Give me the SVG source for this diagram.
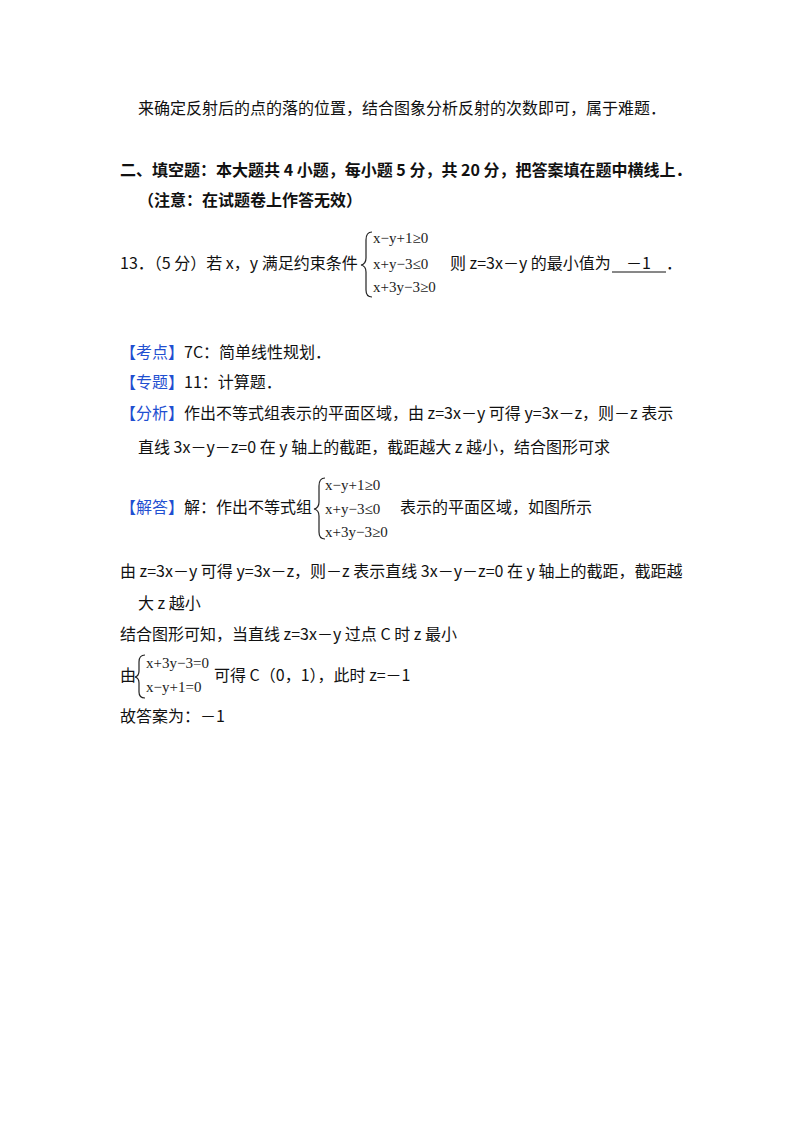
<svg xmlns="http://www.w3.org/2000/svg" width="800" height="1132" viewBox="0 0 800 1132">
<style>
text{font-family:"Noto Sans CJK SC","Noto Sans",sans-serif;font-size:16px;fill:#111}
.b{font-weight:bold}
.k{fill:#1f4fd1}
.m{font-family:"Liberation Serif",serif;font-size:15px;fill:#222}
.br{fill:none;stroke:#222;stroke-width:1.2}
</style>
<rect width="800" height="1132" fill="#fff"/>
<text x="138" y="114">来确定反射后的点的落的位置，结合图象分析反射的次数即可，属于难题．</text>
<text x="120" y="176" class="b">二、填空题：本大题共 4 小题，每小题 5 分，共 20 分，把答案填在题中横线上．</text>
<text x="138" y="206" class="b">（注意：在试题卷上作答无效）</text>
<text x="120" y="269">13．（5 分）若 x，y 满足约束条件</text>
<path class="br" d="M372,232 Q366,232 366,240 L366,258 Q366,264 361,265 Q366,266 366,272 L366,290 Q366,297 372,297"/>
<text x="373" y="243" class="m">x−y+1≥0</text>
<text x="373" y="269" class="m">x+y−3≤0</text>
<text x="373" y="292" class="m">x+3y−3≥0</text>
<text x="450" y="269">则 z=3x－y 的最小值为</text>
<text x="626" y="269">－1</text>
<line x1="612" y1="272" x2="666" y2="272" stroke="#111" stroke-width="1"/>
<text x="666" y="269">．</text>
<text x="120" y="358"><tspan class="k">【考点】</tspan>7C：简单线性规划．</text>
<text x="120" y="388"><tspan class="k">【专题】</tspan>11：计算题．</text>
<text x="120" y="419"><tspan class="k">【分析】</tspan>作出不等式组表示的平面区域，由 z=3x－y 可得 y=3x－z，则－z 表示</text>
<text x="138" y="453">直线 3x－y－z=0 在 y 轴上的截距，截距越大 z 越小，结合图形可求</text>
<text x="120" y="513"><tspan class="k">【解答】</tspan>解：作出不等式组</text>
<path class="br" d="M325,478 Q319,478 319,486 L319,502 Q319,508 314,509 Q319,510 319,516 L319,532 Q319,539 325,539"/>
<text x="325" y="490" class="m">x−y+1≥0</text>
<text x="325" y="514" class="m">x+y−3≤0</text>
<text x="325" y="537" class="m">x+3y−3≥0</text>
<text x="400" y="513">表示的平面区域，如图所示</text>
<text x="120" y="577">由 z=3x－y 可得 y=3x－z，则－z 表示直线 3x－y－z=0 在 y 轴上的截距，截距越</text>
<text x="138" y="609">大 z 越小</text>
<text x="120" y="640">结合图形可知，当直线 z=3x－y 过点 C 时 z 最小</text>
<text x="120" y="681">由</text>
<path class="br" d="M145,655 Q139,655 139,662 L139,671 Q139,676 135,677 Q139,678 139,683 L139,692 Q139,698 145,698"/>
<text x="146" y="668" class="m">x+3y−3=0</text>
<text x="146" y="692" class="m">x−y+1=0</text>
<text x="214" y="681">可得 C（0，1），此时 z=－1</text>
<text x="120" y="722">故答案为：－1</text>
</svg>
